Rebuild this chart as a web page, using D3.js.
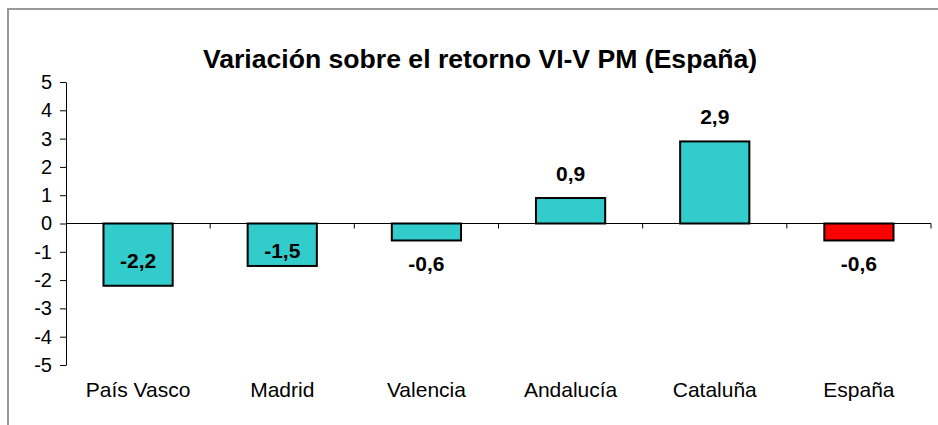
<!DOCTYPE html>
<html>
<head>
<meta charset="utf-8">
<script src="https://cdn.jsdelivr.net/npm/d3@7"></script>
<style>
  body { margin: 0; background: #fff; }
  svg { display: block; font-family: "Liberation Sans", Arial, sans-serif; }
</style>
</head>
<body>
<svg width="938" height="425"></svg>
<script>
const chartTitle = 'Variación sobre el retorno VI-V PM (España)';
const regions = ['País Vasco', 'Madrid', 'Valencia', 'Andalucía', 'Cataluña', 'España'];
const variation = [-2.2, -1.5, -0.6, 0.9, 2.9, -0.6];
const barColors = ['#33CCCC', '#33CCCC', '#33CCCC', '#33CCCC', '#33CCCC', '#FF0000'];
const yTicks = [5, 4, 3, 2, 1, 0, -1, -2, -3, -4, -5];

var svg = d3.select('svg');

// outer frame (only top and left show inside the window)
svg.append('path')
  .attr('d', 'M8,440V9H950')
  .attr('fill', 'none')
  .attr('stroke', '#999')
  .attr('stroke-width', 2);

svg.append('text')
  .attr('x', 480)
  .attr('y', 68)
  .attr('text-anchor', 'middle')
  .attr('font-size', 26.6)
  .attr('font-weight', 'bold')
  .text(chartTitle);

var x = d3.scaleBand().domain(regions).range([66, 931]).paddingInner(0.52).paddingOuter(0.26);
var xOuter = d3.scaleBand().domain(regions).range([66, 931]);
var y = d3.scaleLinear().domain([-5, 5]).range([365, 82]);

// y axis
var yAxis = svg.append('g')
  .attr('transform', 'translate(66,0)')
  .call(d3.axisLeft(y).tickValues(yTicks).tickSize(6).tickSizeOuter(0).tickFormat(d => d));
yAxis.select('.domain').attr('stroke', '#000');
yAxis.selectAll('text')
  .attr('font-size', 20)
  .attr('font-family', '"Liberation Sans", Arial, sans-serif')
  .attr('fill', '#000')
  .attr('x', -14);

// bars
svg.append('g')
  .selectAll('rect')
  .data(variation)
  .enter()
  .append('rect')
  .attr('x', (d, i) => x(regions[i]))
  .attr('width', x.bandwidth())
  .attr('y', d => y(Math.max(0, d)))
  .attr('height', d => Math.abs(y(d) - y(0)))
  .attr('fill', (d, i) => barColors[i])
  .attr('stroke', '#000')
  .attr('stroke-width', 2);

// zero line with category ticks
svg.append('line')
  .attr('x1', 66).attr('x2', 931)
  .attr('y1', y(0)).attr('y2', y(0))
  .attr('stroke', '#000');

svg.append('g')
  .selectAll('line')
  .data(regions)
  .enter()
  .append('line')
  .attr('x1', d => xOuter(d) + xOuter.bandwidth())
  .attr('x2', d => xOuter(d) + xOuter.bandwidth())
  .attr('y1', y(0))
  .attr('y2', y(0) + 5)
  .attr('stroke', '#000');

// category labels
svg.append('g')
  .selectAll('text')
  .data(regions)
  .enter()
  .append('text')
  .attr('x', d => x(d) + x.bandwidth() / 2)
  .attr('y', 397)
  .attr('text-anchor', 'middle')
  .attr('font-size', 21)
  .text(d => d);

// value labels
svg.append('g')
  .selectAll('text')
  .data(variation)
  .enter()
  .append('text')
  .attr('x', (d, i) => x(regions[i]) + x.bandwidth() / 2)
  .attr('y', function (d) {
    if (d < -1) return (y(0) + y(d)) / 2 + 13;
    if (d < 0) return y(d) + 31;
    return y(d) - 17;
  })
  .attr('text-anchor', 'middle')
  .attr('font-size', 21)
  .attr('font-weight', 'bold')
  .text(d => String(d).replace('.', ','));
</script>
</body>
</html>
